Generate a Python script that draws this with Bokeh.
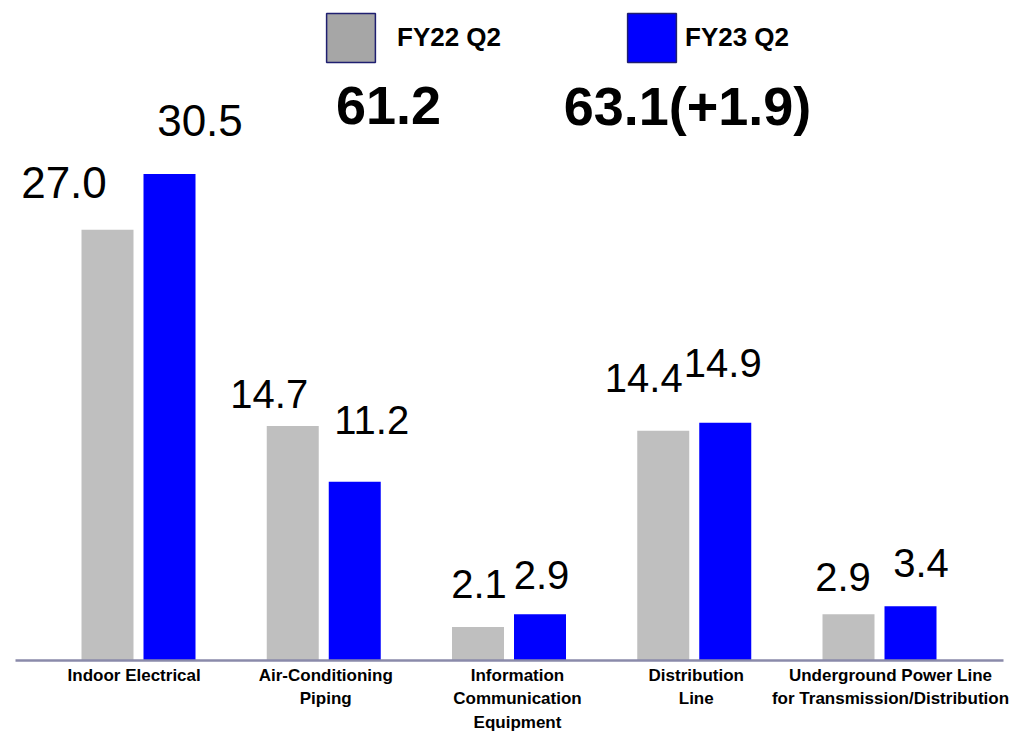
from bokeh.plotting import figure
from bokeh.models import Range1d, ColumnDataSource, Label, Legend, LegendItem
from bokeh.core.properties import value
from bokeh.embed import file_html
from bokeh.resources import INLINE

# ---- data ----
categories = ["Indoor  Electrical", "Air-Conditioning\nPiping",
              "Information\nCommunication\nEquipment", "Distribution\nLine",
              "Underground Power Line\nfor Transmission/Distribution"]
fy22_q2 = [27.0, 14.7, 2.1, 14.4, 2.9]
fy23_q2 = [30.5, 11.2, 2.9, 14.9, 3.4]
series_names = ["FY22 Q2", "FY23 Q2"]
total_fy22 = "61.2"
total_fy23 = "63.1(+1.9)"

# ---- layout / style ----
W, H = 1020, 731
GROUP_PX = 185.25          # pixels per category
FIRST_CENTER_PX = 138
BASE_PX = 660              # screen y of zero
PX_PER_UNIT = 15.95
BAR_W_PX = 52
DODGE_PX = 31

GRAY = "#BFBFBF"
BLUE = "#0000FF"

x_start = -FIRST_CENTER_PX / GROUP_PX
x_end = (W - FIRST_CENTER_PX) / GROUP_PX
y_start = -(H - BASE_PX) / PX_PER_UNIT
y_end = BASE_PX / PX_PER_UNIT

p = figure(width=W, height=H, output_backend="svg", toolbar_location=None,
           x_range=Range1d(x_start, x_end), y_range=Range1d(y_start, y_end),
           min_border=0, min_border_left=0, min_border_right=0,
           min_border_top=0, min_border_bottom=0)
p.axis.visible = False
p.grid.visible = False
p.outline_line_color = None
p.background_fill_color = "white"
p.border_fill_color = "white"

idx = list(range(len(categories)))
dodge = DODGE_PX / GROUP_PX
bw = BAR_W_PX / GROUP_PX

src22 = ColumnDataSource(dict(x=[i - dodge for i in idx], top=fy22_q2,
                              lbl=[f"{v:.1f}" for v in fy22_q2]))
src23 = ColumnDataSource(dict(x=[i + dodge for i in idx], top=fy23_q2,
                              lbl=[f"{v:.1f}" for v in fy23_q2]))

p.vbar(x="x", top="top", width=bw, bottom=0, source=src22,
       fill_color=GRAY, line_color=None)
p.vbar(x="x", top="top", width=bw, bottom=0, source=src23,
       fill_color=BLUE, line_color=None)

# baseline axis line
ax_l = (15 - FIRST_CENTER_PX) / GROUP_PX
ax_r = (1003 - FIRST_CENTER_PX) / GROUP_PX
p.segment(x0=[ax_l], y0=[0], x1=[ax_r], y1=[0], line_color="#8A8AAA",
          line_width=2.5)

# value labels (offsets in px relative to bar top-center)
BASELINE_FIX = 0.37   # empirical correction of alphabetic baseline (em)
off22_x = [-43.5, -23.5, 1, -19.5, -5.5]
off22_y = [-31, -17, -28, -38, -22]
off23_x = [30.5, 17, 1.5, -2.5, 10.5]
off23_y = [-37, -47, -24, -45, -28]
size22 = [44, 40, 40, 40, 40]
size23 = [44, 40, 40, 40, 40]
src22.data.update(dx=off22_x, dy=[d - BASELINE_FIX * s for d, s in zip(off22_y, size22)],
                  fs=[f"{s}px" for s in size22])
src23.data.update(dx=off23_x, dy=[d - BASELINE_FIX * s for d, s in zip(off23_y, size23)],
                  fs=[f"{s}px" for s in size23])
for s in (src22, src23):
    p.text(x="x", y="top", text="lbl", x_offset="dx", y_offset="dy", source=s,
           text_align="center", text_baseline="alphabetic",
           text_font=value("Liberation Sans"), text_font_size="fs",
           text_color="black")

# category labels
cat_dx = [-2, 2, 8.5, 2, 11]
p.text(x=idx, y=[0] * len(idx), text=categories, x_offset=cat_dx, y_offset=5,
       text_align="center", text_baseline="top",
       text_font=value("Liberation Sans"), text_font_style="bold",
       text_font_size="17px", text_line_height=1.25, text_color="black")

# totals
for txt, cx in ((total_fy22, 388), (total_fy23, 687)):
    p.add_layout(Label(x=cx, y=H - 125 + 20, x_units="screen", y_units="screen",
                       text=txt, text_align="center",
                       text_baseline="alphabetic", text_font="Liberation Sans",
                       text_font_style="bold", text_font_size="54px",
                       text_color="black"))

# legend proxies (single bar far outside the visible range)
far_x = [x_end + 100]
far_top = [y_start - 100]
far_bot = y_start - 101
r_leg22 = p.vbar(x=far_x, top=far_top, bottom=far_bot, width=0.1,
                 fill_color="#A6A6A6", line_color="#1F1F70", line_width=1.5)
r_leg23 = p.vbar(x=far_x, top=far_top, bottom=far_bot, width=0.1,
                 fill_color=BLUE, line_color="#1F1F70", line_width=1.5)

def mk_legend(name, rend, loc, standoff):
    lg = Legend(items=[LegendItem(label=name, renderers=[rend])],
                location=loc, orientation="horizontal",
                glyph_width=61, glyph_height=61, label_standoff=standoff,
                padding=0, margin=0, spacing=0,
                border_line_color=None, background_fill_alpha=0,
                label_text_font="Liberation Sans",
                label_text_font_style="bold", label_text_font_size="26px",
                label_text_color="black")
    p.add_layout(lg, "center")

mk_legend(series_names[0], r_leg22, (320, H - 68), 16)
mk_legend(series_names[1], r_leg23, (621, H - 68), 3)

open("out.html", "w").write(file_html(p, INLINE))
